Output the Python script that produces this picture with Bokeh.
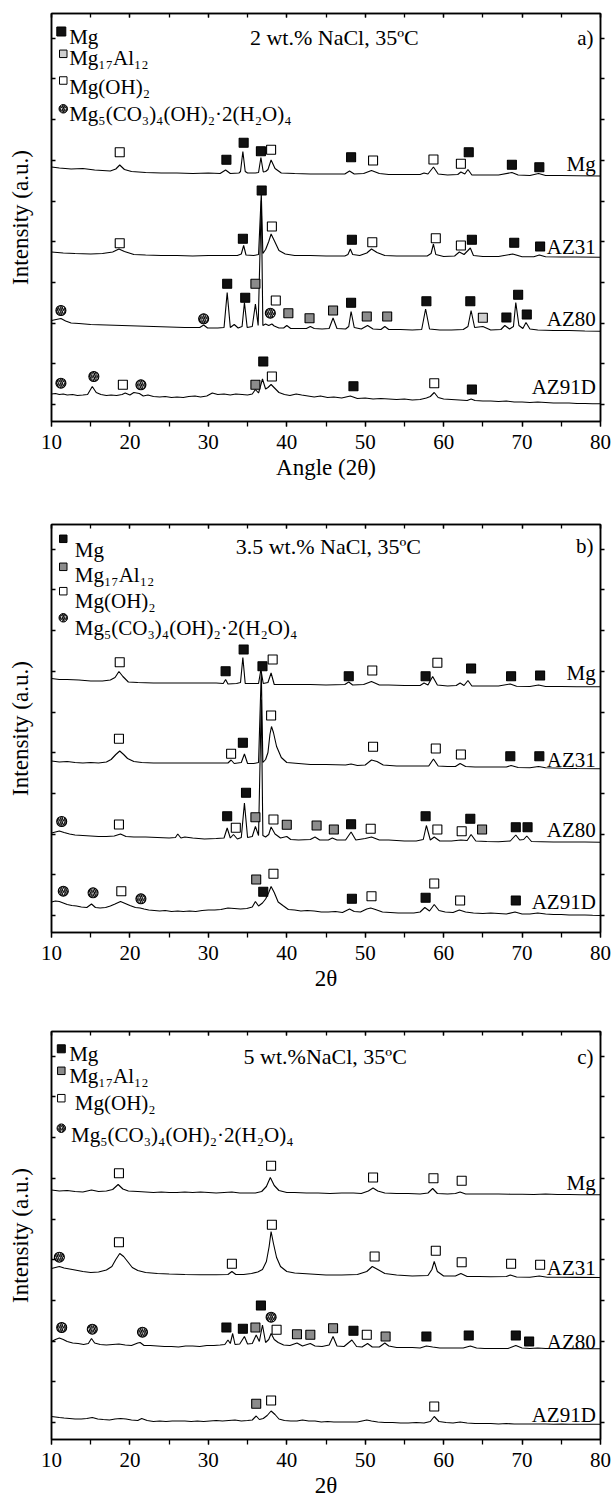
from bokeh.plotting import figure
from bokeh.models import (Range1d, LinearAxis, FixedTicker, SingleIntervalTicker,
                          CustomLabelingPolicy)
from bokeh.layouts import column
from bokeh.core.properties import value
from bokeh.embed import file_html
from bokeh.resources import INLINE

FONT = "Liberation Serif"

# ---------------- data (2-theta in degrees, intensity in a.u. of each panel) -------------
SAMPLES = ["Mg", "AZ31", "AZ80", "AZ91D"]
TITLES = ["2 wt.% NaCl, 35ºC", "3.5 wt.% NaCl, 35ºC", "5 wt.%NaCl, 35ºC"]
TAGS = ["a)", "b)", "c)"]
XLABELS = ["Angle (2θ)", "2θ", "2θ"]
YLABEL = "Intensity (a.u.)"
LEGEND_LABELS = ["Mg", "Mg₁₇Al₁₂", "Mg(OH)₂", "Mg₅(CO₃)₄(OH)₂·2(H₂O)₄"]
Y_TICKS = [17, 57.7, 98.4, 139.1, 179.8, 220.5, 261.2, 301.9, 342.6, 383.3]

# ---- panel a: 2 wt.% NaCl
MG_A = [(10,254.5),(11,253.5),(12.5,252.5),(14,253),(15.5,251.5),(16.5,251),(17.5,250.5),(18.2,252.5),(18.7,256.5),(19.3,252),(20.2,250),(22,249),(24,248.5),(26,248.5),(28,248),(30,248.5),(31.5,248),(32.2,251.5),(32.8,248),(33.9,248.5),(34.1,250),(34.4,270),(34.7,250),(35.0,248.5),(36.0,248.5),(36.4,249),(36.7,264),(37.0,249.5),(37.3,250),(37.6,252),(38.0,261.5),(38.5,253),(39.3,248.5),(41,248),(43,247.5),(45,247.5),(47.4,247.5),(48.0,250.5),(48.6,247.5),(49.8,248),(50.8,251),(51.8,248),(53,247),(55,247),(57.0,247),(57.5,248.5),(58.0,247.5),(58.7,254.5),(59.3,247.5),(60.5,246.5),(61.8,247),(62.2,249.5),(62.7,247.5),(63.1,252),(63.6,246.5),(65,246.5),(67,246.5),(68.7,249),(69.5,246.5),(71,246),(72.1,248),(73,246),(75,246),(77,245.8),(80,245.5)]
AZ31_A = [(10,169.5),(11.5,168.5),(13,168),(15,167.5),(16.5,168),(17.8,169.5),(18.6,172.5),(19.3,170),(20.5,167),(22,166.5),(24,166),(26,166),(28,165.5),(30,166),(32,166),(33.7,166),(34.2,167.5),(34.5,176),(34.8,166.5),(35.8,166),(36.4,167),(36.75,228),(36.95,168),(37.3,172),(37.7,180),(38.0,187.5),(38.4,181),(39.0,171),(39.8,167.5),(41,166),(43,166),(45,165.5),(47.4,165.5),(47.8,167),(48.1,172.5),(48.4,167),(49.3,166),(50.2,168.5),(50.8,172.5),(51.5,169),(52.5,166),(54,165.5),(56,165.5),(57.9,165.5),(58.4,168),(58.7,177.5),(59.0,167),(60,165),(61.4,165.5),(62.0,169.5),(62.6,167),(63.1,171),(63.4,173.5),(63.8,166),(65,165),(67,165),(68.8,167.5),(70,164.8),(71.5,164.8),(72.2,166.5),(73,164.8),(75,164.5),(77,164.5),(80,164.3)]
AZ80_A = [(10,101),(10.6,102),(11.2,103),(11.8,100.5),(12.5,98.5),(13.5,98),(15,97),(17,96.5),(19,96),(21,95.5),(23,95),(25,94.5),(27,94),(28.9,94),(29.4,96.5),(29.9,93.5),(31.2,93.5),(32.0,94),(32.4,129),(32.8,94),(33.3,97),(33.8,93.5),(34.3,95),(34.6,119),(34.95,94),(35.6,95),(36.0,117.5),(36.35,96),(36.75,221),(36.95,96),(37.3,97.5),(37.7,96),(38.1,97.5),(38.4,95.5),(39.0,93.5),(39.6,93.5),(40.0,96),(40.5,93),(41.5,93),(42.5,93),(43.0,95),(43.5,93),(44.5,92.5),(45.4,93),(45.9,103.5),(46.4,93),(47.5,92.5),(47.9,95),(48.2,110),(48.6,94),(49.5,92.5),(50.3,96),(51,92.5),(52,92),(52.5,95),(53,92),(54.5,92),(56,91.5),(57.2,92),(57.7,112.5),(58.2,92.5),(59.5,91.5),(61,91.5),(62.5,92),(63.1,95),(63.5,111),(63.95,94),(65.0,95),(66,91.5),(67.3,92),(67.8,96),(68.4,92.5),(68.9,95),(69.2,119),(69.6,96),(70.1,93),(70.5,99),(71.0,92.5),(72,91.5),(74,91),(76,91),(78,90.5),(80,90.3)]
AZ91D_A = [(10,27.5),(10.5,28),(11,27),(11.5,27.5),(12,26.5),(12.7,27),(13.3,26),(14,26.5),(14.6,27),(15.2,35),(15.7,29),(16.3,27),(17,26),(17.6,26.5),(18.3,26),(19.0,27),(19.4,28.5),(20.0,26.5),(20.5,29),(21.2,28),(21.7,25.5),(22.3,26.5),(23,25),(23.8,24.5),(24.5,25),(25.3,24),(26,24.5),(26.8,24),(27.5,25),(28.3,25.5),(29,24.5),(29.8,25.5),(30.5,28.5),(31.2,27),(32,27.5),(32.8,26.5),(33.5,27.5),(34.3,27),(35,26.5),(35.6,27.5),(36.0,32),(36.4,28.5),(36.9,42.5),(37.3,32.5),(37.6,34),(38.0,37),(38.5,33),(39.0,29),(39.7,27),(40.4,26),(41.2,27.5),(41.9,26.5),(42.7,25.5),(43.5,24.5),(44.3,25.5),(45.2,24),(46,24.5),(47,23.5),(48.1,25.5),(49,23),(50,23.5),(51,22.5),(52,23),(53,22.5),(54,22),(55,22.5),(56,21.5),(57,22),(57.8,23.5),(58.3,25),(58.8,29),(59.3,24),(60,22.5),(61,22),(62,21.5),(63,21),(63.5,22.5),(64,21),(65,20.5),(66,20.5),(67,20),(68,20.5),(69,19.5),(70,19.5),(71,19),(72,19.5),(73,19),(74,18.5),(75,18.5),(76,18.5),(77,18),(78,18),(79,17.8),(80,17.7)]
A_MG = [(32.3,261.7),(34.5,278.7),(36.7,270.3),(48.2,264.3),(63.2,269.3),(68.7,256.7),(72.2,254.3),(34.4,182.7),(36.8,231),(48.3,181.7),(63.6,181.7),(69.0,178.7),(72.3,175),(32.4,137.7),(34.7,123.7),(48.2,118.7),(57.8,120.3),(63.4,120.3),(68.0,104),(69.5,126.7),(70.6,107),(37.0,60),(48.5,35.3),(63.6,32)]
A_AL = [(36.0,137.7),(40.2,108.3),(42.9,103.3),(45.9,111),(50.2,105),(52.8,105),(36.0,36.7)]
A_AL_LIGHT = [(65.0,103.7)]
A_OH = [(18.7,269.3),(38.0,271.7),(51.0,261),(58.7,262),(62.2,257.7),(18.7,178.3),(38.1,195),(50.9,179.3),(59.0,183.3),(62.2,176),(38.6,121),(19.1,36.7),(38.1,45),(58.8,38.3)]
A_CO = [(11.2,111),(29.4,102.7),(37.9,108.3),(11.2,38.3),(15.4,45),(21.4,36.7)]

# ---- panel b: 3.5 wt.% NaCl
MG_B = [(10,254),(11,253),(12,253),(13.5,252.5),(15,251.5),(16.5,251.5),(17.5,252.5),(18.1,255),(18.6,261),(19.1,256),(19.8,250.5),(21,250),(23,249.5),(25,249.5),(27,249.5),(29,249.5),(31,249.5),(31.9,249),(32.2,253),(32.5,248.5),(33.6,249),(34.1,250),(34.4,275),(34.7,249),(35.6,249),(36.4,249),(36.7,263),(37.0,249),(37.6,250),(38.0,259.5),(38.4,248),(39.2,248),(41,248),(43,248),(45,247.5),(47.4,248),(47.9,250.5),(48.4,247.5),(49.8,248),(50.8,251),(51.8,247.5),(53,247.5),(55,247),(57.0,247),(57.5,249.5),(58.0,247.5),(58.6,256),(59.2,247.5),(60.5,246.5),(61.6,247),(62.1,249.5),(62.6,247),(63.1,252),(63.6,246.5),(65,246.5),(67,246.5),(68.5,248.5),(69.3,246.3),(71,246),(72.1,247.5),(73,246),(75,246),(77,245.8),(80,245.7)]
AZ31_B = [(10,171.5),(11,170.5),(12,171),(13,170),(14,169.5),(15,170),(16,169.5),(17,170.5),(17.6,173),(18.2,178),(18.7,181.5),(19.2,178),(19.7,174),(20.5,171),(21.5,170),(23,169.5),(25,169.5),(27,169.5),(29,169.5),(31,169.5),(32.5,169.5),(32.9,172.5),(33.3,169),(34.2,170),(34.6,178.5),(35.0,169),(35.8,169),(36.4,170),(36.75,261),(36.95,170),(37.3,173),(37.6,180),(37.85,198),(38.05,206),(38.3,200),(38.7,186),(39.3,175),(40,170),(41.5,169),(43,168),(45,168),(47.5,167.5),(48.2,168.5),(49,167),(50,167.5),(50.8,172.5),(51.5,171),(52.3,167.5),(54,166.5),(56,166.5),(58.1,166.5),(58.7,173.5),(59.3,166.5),(60.5,166),(61.5,166),(62.1,169),(62.8,166),(64,165.5),(66,165.5),(68,165.5),(68.6,167),(69.5,165),(71,164.7),(72.1,166),(73,164.7),(75,164.3),(77,164),(80,163.7)]
AZ80_B = [(10,99.5),(10.5,100.5),(11,101.5),(11.6,100),(12.3,98.5),(13,97.5),(14,97),(15,96.5),(16,96),(17,96),(18,96.5),(18.8,98.5),(19.5,96),(20.5,95.5),(22,95.5),(23.5,95),(25,94.5),(25.8,95),(26.1,98.5),(26.5,94.5),(27,95.5),(28,94.5),(29.5,93.5),(31,94),(32.0,94.5),(32.4,104.5),(32.8,94.5),(33.2,98),(33.7,93.5),(34.2,95),(34.6,129.5),(35.0,95),(35.6,96),(36.0,106),(36.4,97),(36.75,233),(36.95,97),(37.3,95.5),(37.7,98),(38.0,105.5),(38.5,98.5),(39.2,94.5),(40,96),(40.5,93),(41.5,92.5),(43,93),(43.6,95.5),(44.2,92.5),(45.3,92.5),(45.8,94.5),(46.4,92.5),(47.5,92.5),(48.2,100.5),(48.8,92.5),(50,94),(50.8,95.5),(51.8,92.5),(53,92.5),(55,91.5),(56.5,91.5),(57.4,93),(57.8,107),(58.3,92.5),(58.8,95.5),(59.5,91.5),(61,91.5),(62.2,92.5),(63.0,92),(63.5,98),(64.1,91.5),(65.5,91),(67,90.8),(68.5,91.5),(69.2,97.5),(69.7,92.5),(70.2,93),(70.6,96.5),(71.2,91),(72.5,90.8),(74,90.5),(76,90.5),(78,90.5),(80,90.3)]
AZ91D_B = [(10,30.5),(10.5,31.5),(11,31),(11.5,29.5),(12,28),(12.6,27),(13.2,26.5),(13.8,25.5),(14.5,25),(15.1,28.5),(15.6,25),(16.2,24.5),(16.9,25),(17.5,26.5),(18.1,28.5),(18.8,31),(19.4,29),(20,27),(20.7,25),(21.3,24.5),(21.8,23.5),(22.4,22.5),(23.1,22),(23.8,21.5),(24.5,22),(25.3,21),(26.1,21.5),(26.8,21),(27.6,21.5),(28.4,21),(29.2,22),(30,22.5),(30.8,22.5),(31.6,23),(32.5,24.5),(33.3,24),(34.1,23.5),(34.9,24),(35.6,25.5),(36.0,31),(36.4,26.5),(36.9,29.5),(37.3,33.5),(37.7,40),(38.0,46),(38.4,40),(38.9,30.5),(39.5,27),(40.2,23),(41,22.5),(41.8,21.5),(42.6,22),(43.5,21.5),(44.4,20.5),(45.3,20.5),(46.2,21),(47.1,20),(48,23.5),(48.6,21),(49.4,20.5),(50.2,23.5),(50.7,24.5),(51.3,23),(52.2,20.5),(53.2,20),(54.2,19.5),(55.2,19.5),(56.2,19.5),(57.0,20.5),(57.6,25),(58.2,21.5),(58.8,28),(59.4,22),(60.2,20.5),(61.2,20),(62.0,22.5),(62.8,20.5),(63.8,19.5),(65,19),(66,19.5),(67,19),(68,18.5),(69.1,20.5),(70,18.5),(71,18.5),(72,19.5),(73,18.5),(74,18),(75,18),(76,17.5),(77,17.5),(78,17.5),(79,17.2),(80,17)]
B_MG = [(32.2,261.3),(34.5,283),(36.9,266.3),(47.9,256.3),(57.7,256.3),(63.5,264),(68.6,256.3),(72.3,257),(34.4,189.7),(68.5,176.3),(72.2,176.3),(32.4,116.3),(34.8,139.7),(48.2,108.3),(57.7,116.3),(63.4,113.7),(69.2,105.3),(70.7,105.3),(37.0,40.7),(48.3,33.7),(57.7,34.7),(69.2,32)]
B_AL = [(36.0,115.3),(40.0,107.7),(43.8,107),(46.0,103),(64.9,103),(36.1,53)]
B_AL_LIGHT = []
B_OH = [(18.7,270.3),(38.2,273),(50.9,262),(59.2,269.7),(18.6,193.7),(32.9,178.7),(38.0,217),(51.0,185.7),(59.0,184),(62.2,178),(18.6,108),(33.5,104.7),(38.3,113),(50.7,103.7),(59.2,103),(62.3,101.3),(18.9,41.3),(38.3,58.7),(50.8,36.3),(58.8,49),(62.1,32)]
B_CO = [(11.3,111),(11.5,41.3),(15.3,39.7),(21.4,33.7)]

# ---- panel c: 5 wt.% NaCl
MG_C = [(10,249.5),(11,248.5),(12,249),(13,248),(14,247.5),(15.1,249.5),(16,248),(17,248.5),(17.8,250),(18.5,255),(19.1,250.5),(19.8,248.5),(21,248),(22,247.5),(23,247),(24,247.5),(25,247),(26,247),(27,247.5),(28,247),(29,247.5),(30,247),(31,246.5),(32,247),(33,247.5),(34,246.5),(35,246.5),(36,246.5),(36.8,248),(37.4,253),(37.9,262),(38.4,254),(39,249),(40,247),(41,247),(42.5,246.5),(44,246.5),(45.5,246),(47,246.5),(48.5,246.5),(49.5,246),(50.4,248.5),(51.0,251.5),(51.6,248.5),(52.5,246.5),(54,246),(55.5,246),(57,245.5),(58.0,246.5),(58.6,251),(59.2,246),(60.5,245.5),(61.5,246),(62.1,247.5),(62.8,245.5),(64,245.5),(65.5,245.5),(67,245.5),(68.5,245.3),(70,245.3),(71.5,245),(73,245.5),(74.5,245),(76,245),(77.5,244.8),(79,244.8),(80,244.7)]
AZ31_C = [(10,171),(10.5,172),(11,173),(11.6,171.5),(12.3,170.5),(13,169.5),(14,168),(15,167),(16,167.5),(17,169.5),(17.7,173),(18.2,180),(18.7,186),(19.2,183),(19.7,178),(20.3,172),(21,169),(22,167),(23.5,166),(25,165.5),(27,165),(29,164.8),(31,164.7),(32.5,165),(33.0,168),(33.5,165),(34.5,165),(35.5,166),(36.3,167.5),(36.9,170),(37.4,178),(37.75,193),(38.0,208),(38.3,196),(38.7,182),(39.2,173),(40,168),(41,166.5),(43,165.5),(45,164.5),(47,164.5),(49,165),(50.2,168),(50.9,173),(51.6,170),(52.5,166),(54,164.5),(56,163.5),(58.0,164),(58.5,170),(58.8,178),(59.2,168),(60,163.5),(61.5,163.5),(62.2,166),(63,163),(64.5,163),(66,162.8),(68,163),(68.5,164.5),(69.3,162.5),(71,162.3),(72.2,163.5),(73.2,162.3),(75,162.2),(77,162.1),(80,162)]
AZ80_C = [(10,98),(10.5,100),(11,101.5),(11.5,100),(12,98),(12.7,96.5),(13.4,96),(14.1,95),(14.7,96),(15.1,101),(15.5,96.5),(16.2,95),(17,94.5),(17.8,95),(18.6,95.5),(19.4,94.5),(20.2,94),(21.0,96.5),(21.3,97),(21.8,94),(22.6,94),(23.5,93.5),(24.4,93),(25.3,93),(26.2,92.5),(27.1,93.5),(28,93.5),(28.9,93),(29.8,94),(30.7,94),(31.5,94.5),(32.1,95),(32.5,99.5),(32.8,96),(33.1,106),(33.4,95),(34.0,95.5),(34.6,103),(35.0,95.5),(35.6,96),(36.1,104.5),(36.5,98),(36.9,114.5),(37.3,97),(37.7,100),(38.0,106),(38.4,100),(38.9,97),(39.6,94.5),(40.4,94),(41.3,96.5),(42,93.5),(43,96),(43.6,93.5),(44.5,93),(45.4,94.5),(45.9,103),(46.4,93.5),(47.3,93),(48.3,99.5),(48.9,93),(49.6,92.5),(50.3,96),(50.9,92.5),(51.8,92.5),(52.5,96.5),(53.0,93.5),(54,92),(55,92),(56,92),(57,91.5),(57.8,93.5),(58.6,92.5),(59.5,91.5),(60.5,91.5),(61.5,91.5),(62.5,91.5),(63.4,93.5),(64.2,91.5),(65.2,91),(66.2,91),(67.2,91),(68.2,91),(69.2,94),(70,91.5),(71,91),(72,91.5),(73,91),(74,91),(75,91),(76,90.8),(77,91),(78,90.8),(79,90.8),(80,90.7)]
AZ91D_C = [(10,23),(10.5,22.5),(11,22),(11.6,21.5),(12.3,21),(13,20.5),(13.8,20.5),(14.5,21),(15.2,22),(15.9,20.5),(16.6,20),(17.4,19.5),(18.1,20.5),(18.8,21),(19.5,20.5),(20.2,19.5),(21,19),(21.5,21),(22.2,19),(23,18),(23.8,18.5),(24.6,18),(25.4,18.5),(26.2,18.5),(27,18.5),(27.8,18),(28.6,18.5),(29.4,18),(30.2,18.5),(31,19),(31.8,18.5),(32.6,19),(33.4,19.5),(34.2,18.5),(35,19),(35.6,19.5),(36.1,23.5),(36.5,20),(37.0,21),(37.5,24),(38.0,28.5),(38.5,25),(39.0,20.5),(39.7,19),(40.5,18.5),(41.3,18.5),(42,19.5),(42.8,18.5),(43.6,18.5),(44.4,17.5),(45.2,18),(46,17.5),(47,17.5),(48,17.5),(49,17.5),(50.2,19.5),(50.8,18.5),(51.6,17.5),(52.5,17),(53.5,17),(54.5,16.5),(55.5,16.5),(56.5,17),(57.5,16.5),(58.3,18),(58.8,23),(59.4,18),(60.3,17),(61.2,16.5),(62.1,17.5),(63,16.5),(64,16),(65,16),(66,16),(67,15.5),(68,16),(69,15.5),(70,15.5),(71,15.5),(72,15.5),(73,15.5),(74,15.3),(75,15.5),(76,15.3),(77,15.3),(78,15.3),(79,15.3),(80,15.3)]
C_MG = [(32.3,112),(34.4,110.7),(36.7,134),(48.5,108.7),(57.8,103),(63.2,104),(69.2,104),(70.9,98)]
C_AL = [(36.0,112),(41.3,105.3),(43.0,104.7),(45.9,111.3),(52.6,103),(36.1,35.7)]
C_AL_LIGHT = []
C_OH = [(18.6,266.3),(38.0,273.7),(51.0,262),(58.7,261.3),(62.3,258.7),(18.6,197.3),(33.0,175.7),(38.1,214.7),(51.2,183),(59.0,188.7),(62.3,177.3),(68.6,175.7),(72.3,174.7),(38.7,109.7),(50.2,104.7),(38.0,39),(58.8,33)]
C_CO = [(11.0,182.3),(11.3,112),(15.2,110.3),(21.6,107.3),(38.0,122.3)]

# ---------------- layout / style constants ----------------
W = 612
FRAME_H = 408
BLACK_SQ = "#111111"
GRAY_SQ = "#8c8c8c"
LIGHT_SQ = "#cfcfcf"


def xs(pts):
    return [a for a, b in pts]


def ys(pts):
    return [b for a, b in pts]


def style_axis(ax):
    ax.axis_line_color = "black"
    ax.axis_line_width = 1.5
    ax.major_tick_line_color = "black"
    ax.major_tick_line_width = 1.3
    ax.minor_tick_line_color = "black"
    ax.minor_tick_line_width = 1.3
    ax.major_label_text_color = "black"
    ax.major_label_text_font = FONT
    ax.axis_label_text_font = FONT
    ax.axis_label_text_color = "black"
    ax.axis_label_text_font_style = "normal"


def hide_labels(ax):
    # draw no tick labels at all on this axis
    ax.major_label_policy = CustomLabelingPolicy(
        code="for (const i of Array.from(indices)) { indices.unset(i) }")
    ax.major_label_text_font_size = "1px"
    ax.major_label_standoff = 0


def squares(p, pts, fill, size=9):
    if pts:
        p.scatter(xs(pts), ys(pts), marker="square", size=size, fill_color=fill,
                  line_color="black", line_width=1.1)


def hatched(p, pts, size=10):
    if pts:
        p.scatter(xs(pts), ys(pts), marker="circle", size=size, fill_color="white",
                  line_color="black", line_width=1.1, hatch_pattern="right_diagonal_line",
                  hatch_color="black", hatch_scale=4.2, hatch_weight=1.4)


def make_panel(curves, mk_mg, mk_al, mk_al_light, mk_oh, mk_co, title, tag, xlabel,
               height, top, bottom, label_y, title_pos, leg_sym, leg_txt,
               leg_gray, mg_size):
    p = figure(width=W, height=height, x_range=Range1d(10, 80), y_range=Range1d(0, FRAME_H),
               output_backend="svg", toolbar_location=None,
               min_border_left=51, min_border_right=12, min_border_top=top,
               min_border_bottom=bottom)
    p.grid.visible = False
    p.outline_line_color = "black"
    p.outline_line_width = 1.5
    p.outline_line_alpha = 1.0

    xa = p.xaxis[0]
    xa.ticker = SingleIntervalTicker(interval=10, num_minor_ticks=2)
    style_axis(xa)
    xa.major_tick_in = 0
    xa.major_tick_out = 5
    xa.minor_tick_in = 0
    xa.minor_tick_out = 5
    xa.major_label_text_font_size = "21px"
    xa.major_label_standoff = 8
    xa.axis_label = xlabel
    xa.axis_label_text_font_size = "23px"
    xa.axis_label_standoff = 3

    ya = p.yaxis[0]
    ya.ticker = FixedTicker(ticks=Y_TICKS)
    style_axis(ya)
    ya.major_tick_in = 4
    ya.major_tick_out = 0
    hide_labels(ya)
    ya.axis_label = YLABEL
    ya.axis_label_text_font_size = "23px"
    ya.axis_label_standoff = 13

    ra = LinearAxis(ticker=FixedTicker(ticks=Y_TICKS))
    style_axis(ra)
    ra.major_tick_in = 0
    ra.major_tick_out = 4
    hide_labels(ra)
    p.add_layout(ra, "right")

    ta = LinearAxis(ticker=SingleIntervalTicker(interval=10, num_minor_ticks=2))
    style_axis(ta)
    ta.major_tick_in = 4
    ta.major_tick_out = 0
    ta.minor_tick_in = 4
    ta.minor_tick_out = 0
    hide_labels(ta)
    p.add_layout(ta, "above")

    for pts in curves:
        p.line(xs(pts), ys(pts), line_color="black", line_width=1.1)

    squares(p, mk_mg, BLACK_SQ)
    squares(p, mk_al, GRAY_SQ)
    squares(p, mk_al_light, LIGHT_SQ)
    squares(p, mk_oh, "white")
    hatched(p, mk_co)

    # sample names
    p.text(x=[79.4] * 4, y=label_y, text=SAMPLES, text_align="right",
           text_baseline="middle", text_font=value(FONT), text_font_size="21px",
           text_color="black")

    # panel title and tag
    p.text(x=[title_pos[0]], y=[title_pos[1]], text=[title], text_align="center",
           text_baseline="alphabetic", text_font=value(FONT), text_font_size="22px",
           text_color="black")
    p.text(x=[79.1], y=[title_pos[1]], text=[tag], text_align="right",
           text_baseline="alphabetic", text_font=value(FONT), text_font_size="21px",
           text_color="black")

    # legend symbols and texts
    (sx0, sy0), (sx1, sy1), (sx2, sy2), (sx3, sy3) = leg_sym
    p.scatter([sx0], [sy0], marker="square", size=mg_size, fill_color=BLACK_SQ,
              line_color="black", line_width=1)
    p.scatter([sx1], [sy1], marker="square", size=7.5, fill_color=leg_gray,
              line_color="black", line_width=1)
    p.scatter([sx2], [sy2], marker="square", size=7.5, fill_color="white",
              line_color="black", line_width=1)
    p.scatter([sx3], [sy3], marker="circle", size=8.5, fill_color="white",
              line_color="black", line_width=1, hatch_pattern="right_diagonal_line",
              hatch_color="black", hatch_scale=3.6, hatch_weight=1.3)
    p.text(x=[t[0] for t in leg_txt], y=[t[1] for t in leg_txt], text=LEGEND_LABELS,
           text_align="left", text_baseline="alphabetic", text_font=value(FONT),
           text_font_size="21px", text_color="black")
    return p


pa = make_panel([MG_A, AZ31_A, AZ80_A, AZ91D_A], A_MG, A_AL, A_AL_LIGHT, A_OH, A_CO,
                TITLES[0], TAGS[0], XLABELS[0], 519, 13, 98,
                [257.7, 174.3, 102.7, 34.3], (46.06, 383.7),
                [(11.25, 390), (11.5, 367.7), (11.5, 341), (11.5, 312.7)],
                [(12.25, 385), (12.25, 363.7), (12.25, 335), (12.25, 307.7)],
                LIGHT_SQ, 9)
pb = make_panel([MG_B, AZ31_B, AZ80_B, AZ91D_B], B_MG, B_AL, B_AL_LIGHT, B_OH, B_CO,
                TITLES[1], TAGS[1], XLABELS[1], 507, 5, 94,
                [259.7, 173, 103, 30.3], (45.3, 386.3),
                [(11.5, 393.7), (11.5, 365.7), (11.5, 341.3), (11.5, 314.7)],
                [(12.98, 383), (12.98, 358), (12.98, 331.3), (12.98, 304.7)],
                GRAY_SQ, 7.5)
pc = make_panel([MG_C, AZ31_C, AZ80_C, AZ91D_C], C_MG, C_AL, C_AL_LIGHT, C_OH, C_CO,
                TITLES[2], TAGS[2], XLABELS[2], 475, 5, 62,
                [257, 171.3, 98, 24.7], (44.9, 383),
                [(11.25, 390.7), (11.25, 368.7), (11.25, 341.3), (11.25, 311.3)],
                [(12.25, 385.3), (12.25, 363.7), (12.98, 336.3), (12.5, 304.7)],
                GRAY_SQ, 8)

layout = column(pa, pb, pc, spacing=0)
open("out.html", "w").write(file_html(layout, INLINE))
